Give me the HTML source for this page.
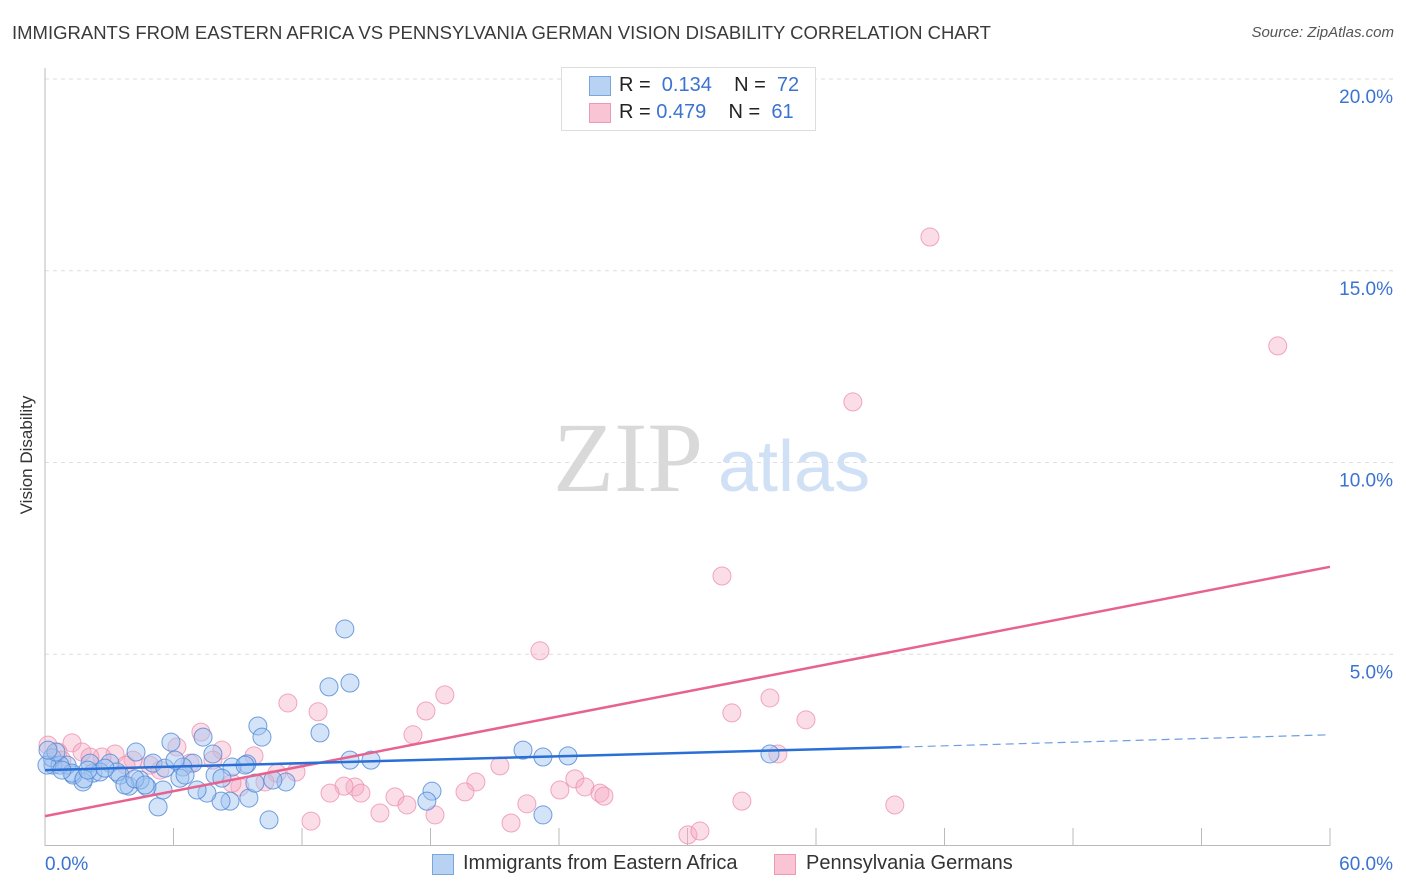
<!DOCTYPE html>
<html><head><meta charset="utf-8"><style>
body{margin:0;background:#fff;font-family:"Liberation Sans",sans-serif;}
#wrap{position:relative;width:1406px;height:892px;overflow:hidden;}
.t{position:absolute;white-space:nowrap;}
</style></head><body>
<div id="wrap">
<div class="t" style="left:12px;top:22px;font-size:18.5px;color:#3a3a3a;">IMMIGRANTS FROM EASTERN AFRICA VS PENNSYLVANIA GERMAN VISION DISABILITY CORRELATION CHART</div>
<div class="t" style="right:12px;top:24px;font-size:15px;color:#555;font-style:italic;">Source: ZipAtlas.com</div>
<div class="t" style="left:27px;top:455px;font-size:17px;color:#333;transform:translate(-50%,-50%) rotate(-90deg);">Vision Disability</div>
<svg id="plot" width="1406" height="892" style="position:absolute;left:0;top:0"></svg>
<div style="position:absolute;left:561px;top:67px;width:253px;height:62px;border:1px solid #ddd;background:#fff;">
 <div style="position:absolute;left:27px;top:8px;width:20px;height:18px;background:#b8d2f4;border:1px solid #7aa6e0;"></div>
 <div class="t" style="left:57px;top:6px;font-size:20px;color:#222;">R = &nbsp;<span style="color:#3b73d1">0.134</span>&nbsp;&nbsp;&nbsp; N = &nbsp;<span style="color:#3b73d1">72</span></div>
 <div style="position:absolute;left:27px;top:35px;width:20px;height:18px;background:#f9c4d4;border:1px solid #ec9ab4;"></div>
 <div class="t" style="left:57px;top:33px;font-size:20px;color:#222;">R = <span style="color:#3b73d1">0.479</span>&nbsp;&nbsp;&nbsp; N = &nbsp;<span style="color:#3b73d1">61</span></div>
</div>
<div style="position:absolute;left:432px;top:854px;width:20px;height:19px;background:#b8d2f4;border:1px solid #7aa6e0;"></div>
<div class="t" style="left:463px;top:852px;font-size:20px;color:#333;">Immigrants from Eastern Africa</div>
<div style="position:absolute;left:774px;top:854px;width:20px;height:19px;background:#f9c4d4;border:1px solid #ec9ab4;"></div>
<div class="t" style="left:806px;top:852px;font-size:20px;color:#333;">Pennsylvania Germans</div>
</div>
<script>
const blueX=[14.0,13.26,14.24,12.84,14.24,15.22,9.94,10.13,5.88,7.38,4.25,5.28,10.46,11.25,9.52,8.64,8.22,7.56,7.10,9.80,9.43,8.73,7.84,6.91,6.44,6.30,5.51,4.76,3.92,4.44,3.50,3.03,2.24,1.77,1.31,1.03,0.37,5.04,2.10,18.07,17.83,22.32,23.25,24.42,33.85,23.25,0.33,0.70,1.26,1.82,2.57,3.36,3.73,4.20,4.67,5.60,6.07,6.54,7.94,8.26,9.34,10.64,0.09,0.51,0.14,0.79,2.80,2.0];
const blueY=[5.66,4.15,4.25,2.95,2.24,2.24,3.13,2.84,2.71,2.84,2.45,1.02,0.68,1.67,1.25,1.17,1.17,1.38,1.46,1.64,2.14,2.06,2.40,2.16,2.06,1.77,1.46,1.54,1.56,1.72,1.85,2.16,1.90,1.67,1.85,2.11,2.11,2.16,2.16,1.43,1.17,2.50,2.32,2.35,2.40,0.81,2.30,2.11,1.90,1.75,1.93,1.93,1.59,1.75,1.59,2.03,2.24,1.85,1.85,1.77,2.11,1.72,2.11,2.45,2.50,1.98,2.03,1.98];
const pinkX=[41.32,57.56,37.72,31.61,23.11,33.85,32.07,35.53,18.67,17.79,11.34,12.75,17.18,7.28,6.16,8.26,9.76,21.24,20.12,24.74,24.04,25.21,25.91,26.10,19.61,14.47,13.96,13.31,14.75,16.34,16.90,22.50,32.54,39.68,15.64,18.21,21.76,12.42,30.02,30.58,34.22,11.72,10.83,10.27,9.10,8.73,1.26,1.73,3.27,2.66,2.10,7.84,6.77,5.37,4.11,3.78,0.14,0.61,0.79,4.90];
const pinkY=[15.88,13.04,11.58,7.04,5.09,3.86,3.47,3.29,3.94,3.52,3.73,3.50,2.90,2.97,2.58,2.50,2.35,2.09,1.67,1.75,1.46,1.54,1.38,1.30,1.41,1.54,1.56,1.38,1.38,1.28,1.07,1.10,1.17,1.07,0.86,0.81,0.60,0.65,0.29,0.39,2.40,1.93,1.90,1.67,1.54,1.64,2.69,2.45,2.40,2.32,2.32,2.24,2.16,1.98,2.24,2.11,2.63,2.45,2.24,2.11];
const pinkTrendX=[0,60];
const pinkTrendY=[0.78,7.28];
const blueTrendX=[0,40,60];
const blueTrendY=[1.98,2.58,2.9];
const yTicks=[5,10,15,20];
const yTickLabels=["5.0%","10.0%","15.0%","20.0%"];
const xTicks=[0,6,12,18,24,30,36,42,48,54,60];

const NS="http://www.w3.org/2000/svg";
const svg=document.getElementById('plot');
const X=v=>45+v*(1330-45)/60;
const Y=v=>846-v*(846-79)/20;
function mk(tag,attrs){const e=document.createElementNS(NS,tag);for(const k in attrs)e.setAttribute(k,attrs[k]);svg.appendChild(e);return e;}

yTicks.forEach((t,i)=>{
 const g=mk('line',{x1:45,x2:1393,y1:Y(t),y2:Y(t),stroke:'#dedede','stroke-dasharray':'4,4','stroke-width':1});
 
 
 const tx=mk('text',{x:1393,y:Y(t)+24,'text-anchor':'end','font-size':19,fill:'#3b73d1','font-family':'Liberation Sans, sans-serif'});
 tx.textContent=yTickLabels[i];
 
 
});
const w1=mk('text',{x:553,y:491,'font-size':100,fill:'#d9d9d9','font-family':'Liberation Serif, serif'});w1.textContent='ZIP';


const w2=mk('text',{x:718,y:491,'font-size':72,fill:'#d0e0f5','font-family':'Liberation Sans, sans-serif'});w2.textContent='atlas';


const ay=mk('line',{x1:45,x2:45,y1:68,y2:846,stroke:'#bbb','stroke-width':1});


const ax=mk('line',{x1:45,x2:1330,y1:845.5,y2:845.5,stroke:'#bbb','stroke-width':1});


xTicks.forEach(t=>{
 const l=mk('line',{x1:X(t),x2:X(t),y1:828,y2:846,stroke:'#bbb','stroke-width':1});
 
 
});
const xl0=mk('text',{x:45,y:870,'font-size':19,fill:'#3b73d1','font-family':'Liberation Sans, sans-serif'});xl0.textContent='0.0%';


const xl1=mk('text',{x:1393,y:870,'text-anchor':'end','font-size':19,fill:'#3b73d1','font-family':'Liberation Sans, sans-serif'});xl1.textContent='60.0%';



pinkX.forEach((x,i)=>{
 const c=mk('circle',{cx:X(x),cy:Y(pinkY[i]),r:9,fill:'rgba(246,170,196,0.4)',stroke:'rgba(236,140,170,0.75)','stroke-width':1});
 
 
});
blueX.forEach((x,i)=>{
 const c=mk('circle',{cx:X(x),cy:Y(blueY[i]),r:9,fill:'rgba(160,196,240,0.45)',stroke:'rgba(80,135,215,0.8)','stroke-width':1});
 
 
});
const pt=mk('line',{x1:X(pinkTrendX[0]),y1:Y(pinkTrendY[0]),x2:X(pinkTrendX[1]),y2:Y(pinkTrendY[1]),stroke:'#e8628f','stroke-width':2.5});


const bt=mk('line',{x1:X(blueTrendX[0]),y1:Y(blueTrendY[0]),x2:X(blueTrendX[1]),y2:Y(blueTrendY[1]),stroke:'#2a6fd6','stroke-width':2.5});


const bd=mk('line',{x1:X(blueTrendX[1]),y1:Y(blueTrendY[1]),x2:X(blueTrendX[2]),y2:Y(blueTrendY[2]),stroke:'#6f9ee0','stroke-width':1.2,'stroke-dasharray':'8,5'});


</script>
</body></html>
